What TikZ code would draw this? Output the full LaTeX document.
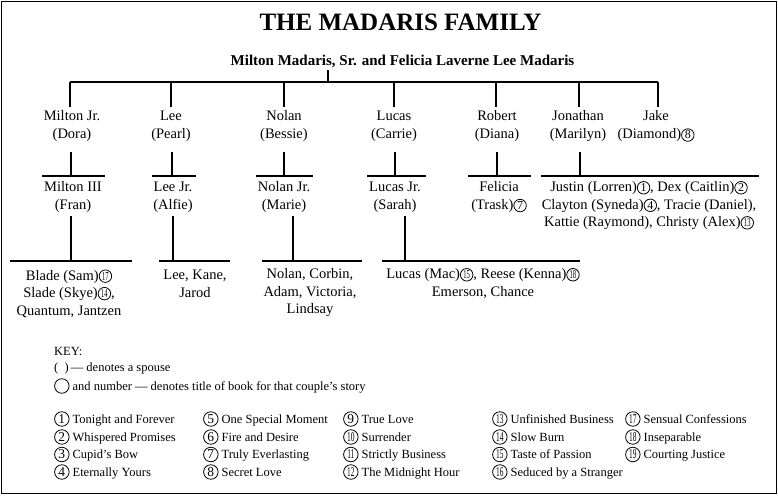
\documentclass[tikz,border=0pt]{standalone}
\usepackage{fontspec}
\setmainfont{Liberation Serif}
\usepackage{graphicx}
\newcommand{\circnum}[3]{\tikz[baseline=(cn.base)]\node[circle,draw,line width=0.8pt,inner sep=0pt,minimum size=#1,anchor=center,font=\fontsize{#2}{#2}\selectfont](cn){#3};}
\newcommand{\cn}[1]{\circnum{12.5pt}{12}{#1}}
\newcommand{\cnn}[1]{\circnum{12.5pt}{12}{\scalebox{0.55}[1]{#1}}}
\newcommand{\ck}[1]{\circnum{14.5pt}{13.5}{#1}}
\newcommand{\ckk}[1]{\circnum{14.5pt}{13.5}{\scalebox{0.55}[1]{#1}}}
\tikzset{
  person/.style={align=center, font=\fontsize{14.5}{18}\selectfont, inner sep=0pt},
  person3/.style={align=center, font=\fontsize{14.5}{17.5}\selectfont, inner sep=0pt},
  link/.style={line width=1.4pt},
  keyt/.style={anchor=west, font=\fontsize{12.5}{15}\selectfont, inner sep=0pt},
}
\begin{document}
\begin{tikzpicture}[x=1pt,y=-1pt]
\useasboundingbox (0,0) rectangle (778,495);
\draw[line width=1.4pt] (1.5,1.5) rectangle (776.5,493.5);

\node[font=\fontsize{25}{25}\selectfont\bfseries, inner sep=0pt] (title) at (400.5,22) {THE MADARIS FAMILY};
\node[font=\fontsize{15}{15}\selectfont\bfseries, inner sep=0pt] (parents) at (402.5,61) {Milton Madaris, Sr. and Felicia Laverne Lee Madaris};

% generation 2
\node[person] (miltonjr) at (72,126.5) {Milton Jr.\\(Dora)};
\node[person] (lee) at (171,126.5) {Lee\\(Pearl)};
\node[person] (nolan) at (284,126.5) {Nolan\\(Bessie)};
\node[person] (lucas) at (394,126.5) {Lucas\\(Carrie)};
\node[person] (robert) at (497,126.5) {Robert\\(Diana)};
\node[person] (jonathan) at (578,126.5) {Jonathan\\(Marilyn)};
\node[person] (jake) at (656,126.5) {Jake\\(Diamond)\cn{8}};

\coordinate (p0) at (328,70);
\coordinate (p1) at (328,82);
\coordinate (b1) at (70,82);
\coordinate (b7) at (658,82);
\coordinate (d1) at (70,107);
\coordinate (d2) at (171,107);
\coordinate (d3) at (284,107);
\coordinate (d4) at (394,107);
\coordinate (d5) at (496,107);
\coordinate (d6) at (579,107);
\coordinate (d7) at (658,107);
\draw[link] (p0) -- (p1);
\draw[link] (b1) -- (b7);
\foreach \d in {d1,d2,d3,d4,d5,d6,d7} { \draw[link] (\d |- p1) -- (\d); }

% generation 3
\node[person] (miltoniii) at (73,197) {Milton III\\(Fran)};
\node[person] (leejr) at (173,197) {Lee Jr.\\(Alfie)};
\node[person] (nolanjr) at (284,197) {Nolan Jr.\\(Marie)};
\node[person] (lucasjr) at (395,197) {Lucas Jr.\\(Sarah)};
\node[person] (felicia) at (499,197) {Felicia\\(Trask)\cn{7}};
\node[person3] (jonkids) at (649,205.5) {Justin (Lorren)\cn{1}, Dex (Caitlin)\cn{2}\\Clayton (Syneda)\cn{4}, Tracie (Daniel),\\Kattie (Raymond), Christy (Alex)\cnn{13}};

% stems gen2 -> gen3
\foreach \x/\l/\r/\n in {71/42/105/a, 172/152/196/b, 284/256/313/c, 395/367/426/d, 497/468/531/e, 580/541/759/f} {
  \coordinate (s\n) at (\x,152);
  \coordinate (t\n) at (\x,176);
  \coordinate (l\n) at (\l,176);
  \coordinate (r\n) at (\r,176);
  \draw[link] (s\n) -- (t\n);
  \draw[link] (l\n) -- (r\n);
}

% generation 4
\node[person3] (miltonkids) at (69,293.5) {Blade (Sam)\cnn{17}\\Slade (Skye)\cnn{14},\\Quantum, Jantzen};
\node[person] (leekids) at (195,284) {Lee, Kane,\\Jarod};
\node[person3] (nolankids) at (310,293) {Nolan, Corbin,\\Adam, Victoria,\\Lindsay};
\node[person] (lucaskids) at (483,283.5) {Lucas (Mac)\cnn{15}, Reese (Kenna)\cnn{18}\\Emerson, Chance};

\foreach \x/\l/\r/\n in {71/10/132/g, 173/159/230/h, 293/262/362/i, 405/382/580/j} {
  \coordinate (s\n) at (\x,216);
  \coordinate (t\n) at (\x,261);
  \coordinate (l\n) at (\l,261);
  \coordinate (r\n) at (\r,261);
  \draw[link] (s\n) -- (t\n);
  \draw[link] (l\n) -- (r\n);
}

% key
\node[keyt] (key1) at (54,351) {KEY:};
\node[keyt] (key2) at (54,368) {(\,\,\,)\,— denotes a spouse};
\node[keyt] (key3) at (54,386) {\ck{\phantom{0}} and number — denotes title of book for that couple’s story};

\node[keyt] (t1) at (54,419) {\ck{1} Tonight and Forever};
\node[keyt] (t2) at (54,437) {\ck{2} Whispered Promises};
\node[keyt] (t3) at (54,454.5) {\ck{3} Cupid’s Bow};
\node[keyt] (t4) at (54,472) {\ck{4} Eternally Yours};
\node[keyt] (t5) at (203,419) {\ck{5} One Special Moment};
\node[keyt] (t6) at (203,437) {\ck{6} Fire and Desire};
\node[keyt] (t7) at (203,454.5) {\ck{7} Truly Everlasting};
\node[keyt] (t8) at (203,472) {\ck{8} Secret Love};
\node[keyt] (t9) at (343,419) {\ck{9} True Love};
\node[keyt] (t10) at (343,437) {\ckk{10} Surrender};
\node[keyt] (t11) at (343,454.5) {\ckk{11} Strictly Business};
\node[keyt] (t12) at (343,472) {\ckk{12} The Midnight Hour};
\node[keyt] (t13) at (492,419) {\ckk{13} Unfinished Business};
\node[keyt] (t14) at (492,437) {\ckk{14} Slow Burn};
\node[keyt] (t15) at (492,454.5) {\ckk{15} Taste of Passion};
\node[keyt] (t16) at (492,472) {\ckk{16} Seduced by a Stranger};
\node[keyt] (t17) at (625,419) {\ckk{17} Sensual Confessions};
\node[keyt] (t18) at (625,437) {\ckk{18} Inseparable};
\node[keyt] (t19) at (625,454.5) {\ckk{19} Courting Justice};
\end{tikzpicture}
\end{document}
